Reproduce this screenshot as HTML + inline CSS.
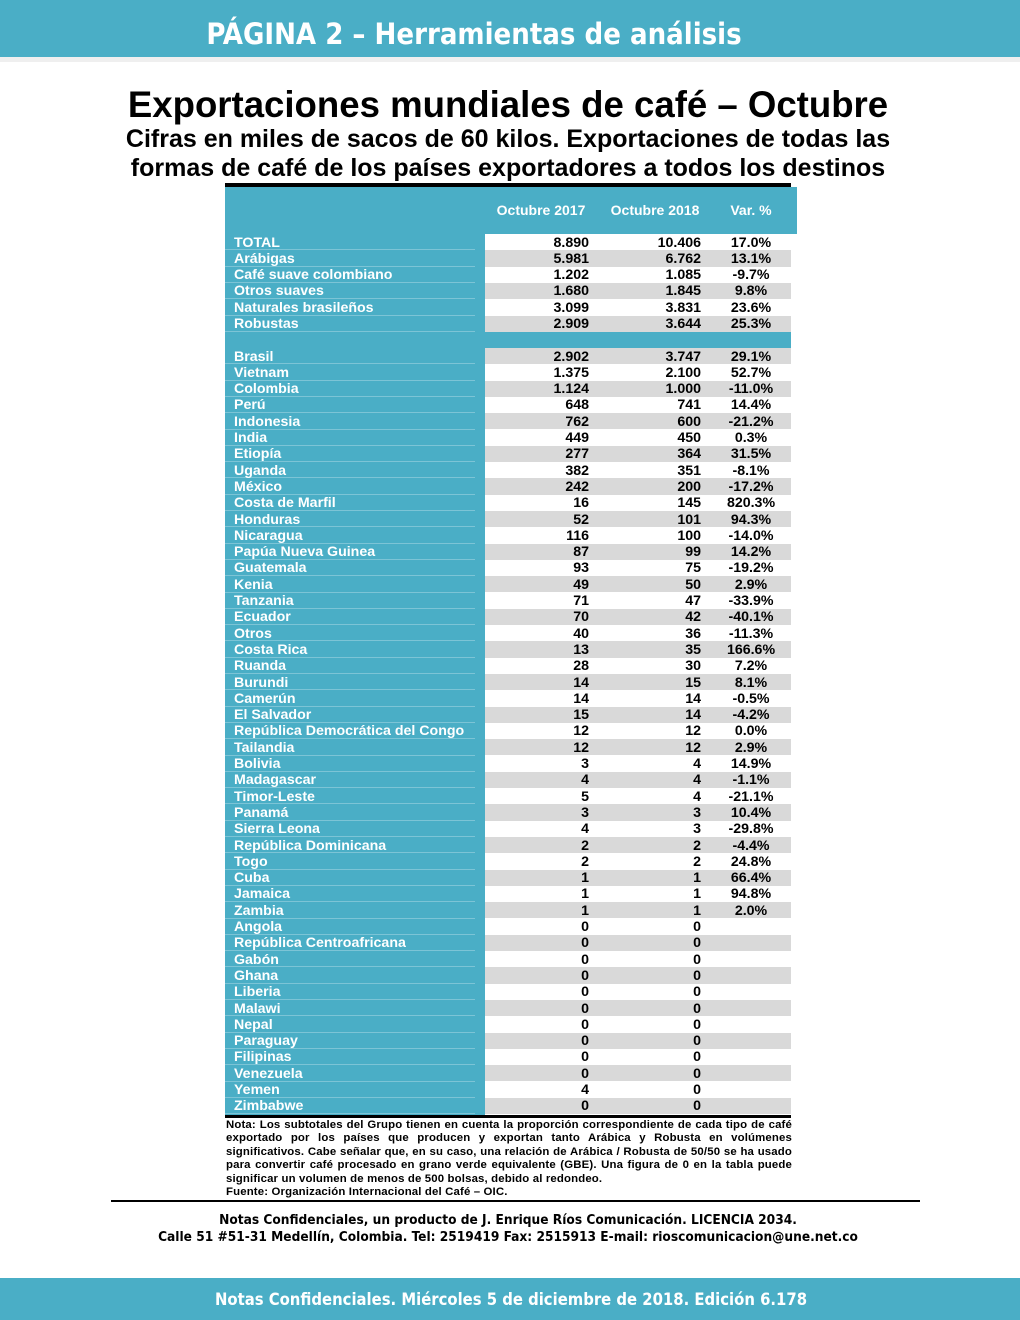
<!DOCTYPE html>
<html><head><meta charset="utf-8">
<style>
body{margin:0;width:1020px;height:1320px;background:#fff;position:relative;overflow:hidden;font-family:"Liberation Sans",sans-serif;}
.abs{position:absolute;}
.cell{position:absolute;font-weight:bold;font-size:14.2px;line-height:16px;white-space:nowrap;}
</style></head><body>
<div class="abs" style="left:0;top:0;width:1020px;height:57px;background:#4aaec6;"></div>
<div class="abs" style="left:0;top:57px;width:1020px;height:5px;background:#efefef;"></div>
<div class="abs" style="left:0;top:17px;width:948px;text-align:center;color:#fff;font:bold 29px 'DejaVu Sans Condensed','DejaVu Sans',sans-serif;">PÁGINA 2 – Herramientas de análisis</div>
<div class="abs" style="left:0;top:84px;width:1016px;text-align:center;font-weight:bold;font-size:36.6px;">Exportaciones mundiales de café – Octubre</div>
<div class="abs" style="left:0;top:125px;width:1016px;text-align:center;font-weight:bold;font-size:25px;line-height:29px;">Cifras en miles de sacos de 60 kilos. Exportaciones de todas las<br>formas de café de los países exportadores a todos los destinos</div>
<div class="abs" style="left:225px;top:183px;width:566px;height:4px;background:#000;"></div>
<div class="abs" style="left:225px;top:187px;width:572px;height:47px;background:#4aaec6;"></div>
<div class="abs" style="left:225px;top:234px;width:260px;height:881px;background:#4aaec6;"></div>
<div class="cell" style="left:485px;top:202px;width:112px;text-align:center;color:#fff;font-size:14px;">Octubre 2017</div>
<div class="cell" style="left:599px;top:202px;width:112px;text-align:center;color:#fff;font-size:14px;">Octubre 2018</div>
<div class="cell" style="left:713px;top:202px;width:76px;text-align:center;color:#fff;font-size:14px;">Var. %</div>
<div class="abs" style="left:485px;top:332px;width:306px;height:16px;background:#4aaec6;"></div>
<div id="rows"></div>
<div class="abs" style="left:225px;top:1115px;width:566px;height:3px;background:#000;"></div>
<div class="abs" style="left:226px;top:1119px;width:566px;font-weight:bold;font-size:11.4px;letter-spacing:0.15px;line-height:13.4px;text-align:justify;">Nota: Los subtotales del Grupo tienen en cuenta la proporción correspondiente de cada tipo de café exportado por los países que producen y exportan tanto Arábica y Robusta en volúmenes significativos. Cabe señalar que, en su caso, una relación de Arábica / Robusta de 50/50 se ha usado para convertir café procesado en grano verde equivalente (GBE). Una figura de 0 en la tabla puede significar un volumen de menos de 500 bolsas, debido al redondeo.<br>Fuente: Organización Internacional del Café – OIC.</div>
<div class="abs" style="left:111px;top:1200px;width:809px;height:2px;background:#000;"></div>
<div class="abs" style="left:0;top:1212px;width:1016px;text-align:center;font:bold 13.6px 'DejaVu Sans Condensed','DejaVu Sans',sans-serif;line-height:17px;">Notas Confidenciales, un producto de J. Enrique Ríos Comunicación. LICENCIA 2034.<br>Calle 51 #51-31 Medellín, Colombia. Tel: 2519419 Fax: 2515913 E-mail: rioscomunicacion@une.net.co</div>
<div class="abs" style="left:0;top:1278px;width:1020px;height:42px;background:#4aaec6;"></div>
<div class="abs" style="left:0;top:1290px;width:1022px;text-align:center;color:#fff;font:bold 16.5px 'DejaVu Sans Condensed','DejaVu Sans',sans-serif;">Notas Confidenciales. Miércoles 5 de diciembre de 2018. Edición 6.178</div>
<script>
const groupNames=["TOTAL","Arábigas","Café suave colombiano","Otros suaves","Naturales brasileños","Robustas"];
const group2017=["8.890","5.981","1.202","1.680","3.099","2.909"];
const group2018=["10.406","6.762","1.085","1.845","3.831","3.644"];
const groupVar=["17.0%","13.1%","-9.7%","9.8%","23.6%","25.3%"];
const countries=["Brasil","Vietnam","Colombia","Perú","Indonesia","India","Etiopía","Uganda","México","Costa de Marfil","Honduras","Nicaragua","Papúa Nueva Guinea","Guatemala","Kenia","Tanzania","Ecuador","Otros","Costa Rica","Ruanda","Burundi","Camerún","El Salvador","República Democrática del Congo","Tailandia","Bolivia","Madagascar","Timor-Leste","Panamá","Sierra Leona","República Dominicana","Togo","Cuba","Jamaica","Zambia","Angola","República Centroafricana","Gabón","Ghana","Liberia","Malawi","Nepal","Paraguay","Filipinas","Venezuela","Yemen","Zimbabwe"];
const country2017=["2.902","1.375","1.124","648","762","449","277","382","242","16","52","116","87","93","49","71","70","40","13","28","14","14","15","12","12","3","4","5","3","4","2","2","1","1","1","0","0","0","0","0","0","0","0","0","0","4","0"];
const country2018=["3.747","2.100","1.000","741","600","450","364","351","200","145","101","100","99","75","50","47","42","36","35","30","15","14","14","12","12","4","4","4","3","3","2","2","1","1","1","0","0","0","0","0","0","0","0","0","0","0","0"];
const countryVar=["29.1%","52.7%","-11.0%","14.4%","-21.2%","0.3%","31.5%","-8.1%","-17.2%","820.3%","94.3%","-14.0%","14.2%","-19.2%","2.9%","-33.9%","-40.1%","-11.3%","166.6%","7.2%","8.1%","-0.5%","-4.2%","0.0%","2.9%","14.9%","-1.1%","-21.1%","10.4%","-29.8%","-4.4%","24.8%","66.4%","94.8%","2.0%","","","","","","","","","","","",""];
const RH=16.3;
const host=document.getElementById('rows');
function addRow(name,a,b,v,top,gray,i){
  const bg=document.createElement('div');
  bg.className='abs';
  
  
  bg.style.cssText=`left:485px;top:${top}px;width:306px;height:${RH}px;background:${gray?'#d9d9d9':'#fff'}`;
  host.appendChild(bg);
  const ln=document.createElement('div');
  ln.className='abs';
  
  
  ln.style.cssText=`left:225px;top:${top+RH-1}px;width:250px;height:1px;background:#7cc4d6`;
  host.appendChild(ln);
  const l=document.createElement('div');
  l.className='cell';
  
  
  l.style.cssText=`left:234px;top:${top+0.5}px;color:#fff`;
  l.textContent=name;host.appendChild(l);
  const c1=document.createElement('div');
  c1.className='cell';
  
  
  c1.style.cssText=`left:489px;width:100px;text-align:right;top:${top+0.5}px`;
  c1.textContent=a;host.appendChild(c1);
  const c2=document.createElement('div');
  c2.className='cell';
  
  
  c2.style.cssText=`left:601px;width:100px;text-align:right;top:${top+0.5}px`;
  c2.textContent=b;host.appendChild(c2);
  const c3=document.createElement('div');
  c3.className='cell';
  
  
  c3.style.cssText=`left:711px;width:80px;text-align:center;top:${top+0.5}px`;
  c3.textContent=v;host.appendChild(c3);
}
groupNames.forEach((n,i)=>addRow(n,group2017[i],group2018[i],groupVar[i],234+i*RH,i%2==1,i));
countries.forEach((n,i)=>addRow(n,country2017[i],country2018[i],countryVar[i],348+i*RH,i%2==0,i));
</script>
</body></html>
